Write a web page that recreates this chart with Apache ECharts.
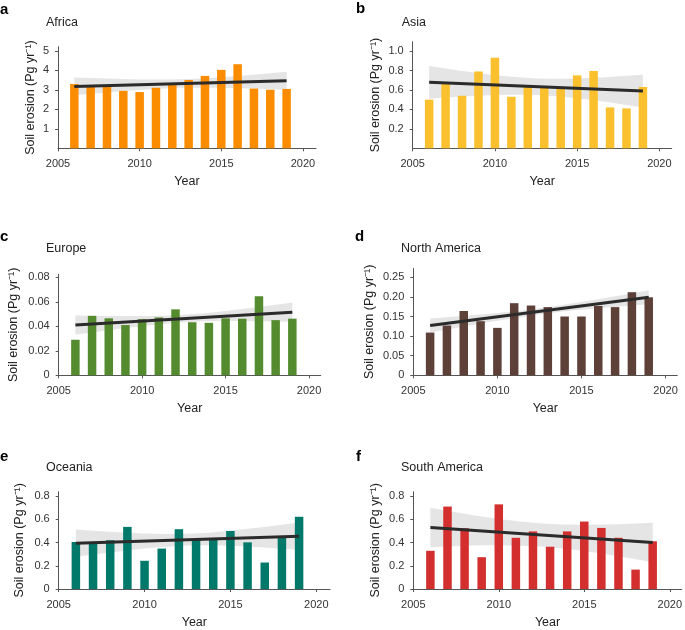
<!DOCTYPE html>
<html><head><meta charset="utf-8">
<script src="https://cdn.jsdelivr.net/npm/echarts@6/dist/echarts.min.js"></script>
<style>html,body{margin:0;padding:0;background:#fff}#c{width:685px;height:630px}</style>
</head><body><div id="c"></div>
<script>
// ---- data ----
const years = [2006,2007,2008,2009,2010,2011,2012,2013,2014,2015,2016,2017,2018,2019];
const regions = ['Africa','Asia','Europe','North America','Oceania','South America'];
const panelLetters = ['a','b','c','d','e','f'];
const africa = [3.30,3.20,3.20,2.95,2.89,3.11,3.30,3.51,3.72,4.03,4.32,3.07,3.01,3.05];
const asia = [0.50,0.66,0.54,0.79,0.93,0.53,0.63,0.62,0.61,0.75,0.795,0.42,0.41,0.63];
const europe = [0.029,0.0485,0.0465,0.041,0.0458,0.0472,0.0538,0.0433,0.0428,0.0465,0.0462,0.0645,0.045,0.0462];
const northAmerica = [0.109,0.127,0.164,0.138,0.121,0.184,0.178,0.174,0.150,0.150,0.177,0.174,0.212,0.199];
const oceania = [0.405,0.40,0.42,0.535,0.243,0.348,0.515,0.432,0.432,0.50,0.402,0.228,0.44,0.622];
const southAmerica = [0.329,0.71,0.523,0.274,0.729,0.441,0.496,0.364,0.496,0.581,0.526,0.441,0.167,0.411];
// trend line end points (2006, 2019)
const trendYears = [2006,2019];
const trendAfrica = [3.18,3.47];
const trendAsia = [0.678,0.588];
const trendEurope = [0.041,0.0515];
const trendNorthAmerica = [0.127,0.199];
const trendOceania = [0.395,0.455];
const trendSouthAmerica = [0.53,0.40];
// confidence band, read at these years
const bandYears = [2006,2007,2008,2009,2010,2011.25,2012.5,2013.75,2015,2016,2017,2018,2019];
const bandLoAfrica = [2.72,2.80,2.87,2.94,3.00,3.06,3.105,3.11,3.11,3.09,3.07,3.04,3.01];
const bandHiAfrica = [3.64,3.61,3.58,3.56,3.54,3.535,3.545,3.59,3.65,3.71,3.78,3.85,3.93];
const bandLoAsia = [0.51,0.522,0.532,0.541,0.548,0.551,0.548,0.534,0.514,0.493,0.470,0.445,0.42];
const bandHiAsia = [0.846,0.820,0.796,0.773,0.752,0.732,0.718,0.714,0.718,0.725,0.734,0.745,0.756];
const bandLoEurope = [0.0332,0.0350,0.0368,0.0385,0.0401,0.0418,0.0433,0.0440,0.0442,0.0442,0.0441,0.0439,0.0437];
const bandHiEurope = [0.0488,0.0486,0.0484,0.0483,0.0483,0.0486,0.0493,0.0507,0.0524,0.0540,0.0557,0.0575,0.0593];
const bandLoNorthAmerica = [0.109,0.117,0.124,0.132,0.139,0.147,0.155,0.162,0.167,0.171,0.174,0.178,0.181];
const bandHiNorthAmerica = [0.145,0.148,0.152,0.155,0.159,0.164,0.171,0.179,0.187,0.194,0.202,0.209,0.217];
const bandLoOceania = [0.277,0.297,0.315,0.332,0.348,0.363,0.375,0.376,0.372,0.365,0.357,0.347,0.337];
const bandHiOceania = [0.513,0.502,0.493,0.485,0.478,0.474,0.475,0.485,0.502,0.518,0.535,0.554,0.573];
const bandLoSouthAmerica = [0.36,0.367,0.372,0.376,0.377,0.373,0.365,0.349,0.327,0.305,0.282,0.257,0.23];
const bandHiSouthAmerica = [0.70,0.674,0.648,0.625,0.603,0.582,0.565,0.556,0.553,0.555,0.558,0.564,0.57];
// tick labels
const xTicks = [2005,2010,2015,2020];
const yTicksAfrica = [1,2,3,4,5];
const yTicksAsia = [0.2,0.4,0.6,0.8,1.0];
const yTicksEurope = [0,0.02,0.04,0.06,0.08];
const yTicksNorthAmerica = [0,0.05,0.10,0.15,0.20,0.25];
const yTicksOceania = [0,0.2,0.4,0.6,0.8];
const yTicksSouthAmerica = [0,0.2,0.4,0.6,0.8];

const values = [africa,asia,europe,northAmerica,oceania,southAmerica];
const trends = [trendAfrica,trendAsia,trendEurope,trendNorthAmerica,trendOceania,trendSouthAmerica];
const bandLo = [bandLoAfrica,bandLoAsia,bandLoEurope,bandLoNorthAmerica,bandLoOceania,bandLoSouthAmerica];
const bandHi = [bandHiAfrica,bandHiAsia,bandHiEurope,bandHiNorthAmerica,bandHiOceania,bandHiSouthAmerica];
const yTicks = [yTicksAfrica,yTicksAsia,yTicksEurope,yTicksNorthAmerica,yTicksOceania,yTicksSouthAmerica];
const yDecimals = [0,1,2,2,1,1];

// ---- layout / style ----
const FONT = '"Liberation Sans", Arial, Helvetica, sans-serif';
const colors = ['#FB8C00','#FBC02D','#558B2F','#5D4037','#00796B','#D32F2F'];
const grids = [
  {left:58, top:46.7, width:258, height:101.6},
  {left:412.7, top:41.7, width:259, height:106.6},
  {left:58.7, top:274.3, width:262, height:101},
  {left:413.3, top:268.3, width:264, height:107},
  {left:58.7, top:491.7, width:271.3, height:102},
  {left:413.3, top:491.7, width:270.7, height:102}
];
const xMax = [2020.8,2020.75,2020.7,2020.7,2020.8,2020.7];
const yMax = [5.22,1.096,0.0824,0.273,0.838,0.838];
const yNameGap = [20.5,30.5,38.5,37.5,32.5,31.5];
const letterPos = [[0,9.5],[356,8.5],[0,237],[355,237],[0,457],[356,457]];
const titlePos = [[46,22.5],[401.7,23],[46,249],[401,249],[46,467.5],[401,467.5]];

const axisColor = '#555';
const xAxes = [], yAxes = [], series = [], graphics = [];
for (let i = 0; i < 6; i++) {
  xAxes.push({
    type:'value', gridIndex:i, min:2005, max:xMax[i],
    name:'Year', nameLocation:'middle', nameGap:27,
    nameTextStyle:{fontFamily:FONT, fontSize:12.5, color:'#222'},
    axisLine:{show:true, lineStyle:{color:axisColor, width:1}},
    axisTick:{show:true, length:3, customValues:xTicks, lineStyle:{color:axisColor}},
    axisLabel:{customValues:xTicks, margin:10, fontFamily:FONT, fontSize:11, color:'#333',
      formatter:function(v){ return String(Math.round(v)); }},
    splitLine:{show:false}
  });
  const dec = yDecimals[i];
  yAxes.push({
    type:'value', gridIndex:i, min:0, max:yMax[i],
    name:'Soil erosion (Pg yr\u207B\u00B9)', nameLocation:'middle', nameGap:yNameGap[i],
    nameTextStyle:{fontFamily:FONT, fontSize:12.5, color:'#222'},
    axisLine:{show:true, lineStyle:{color:axisColor, width:1}},
    axisTick:{show:true, length:3, customValues:yTicks[i], lineStyle:{color:axisColor}},
    axisLabel:{customValues:yTicks[i], margin:9, fontFamily:FONT, fontSize:11, color:'#333',
      formatter:function(v){ return Math.abs(v) < 1e-9 ? '0' : Number(v).toFixed(dec); }},
    splitLine:{show:false}
  });
  series.push({
    type:'bar', xAxisIndex:i, yAxisIndex:i, barWidth:8.5,
    itemStyle:{color:colors[i]},
    data: years.map((y,j)=>[y, values[i][j]])
  });
  const lo = bandLo[i], hi = bandHi[i];
  series.push({
    type:'custom', coordinateSystem:'cartesian2d', xAxisIndex:i, yAxisIndex:i, silent:true,
    data: [[bandYears[0], lo[0]]],
    encode:{x:0, y:1},
    renderItem:function(params, api){
      const pts = [];
      for (let j = 0; j < bandYears.length; j++) pts.push(api.coord([bandYears[j], hi[j]]));
      for (let j = bandYears.length - 1; j >= 0; j--) pts.push(api.coord([bandYears[j], lo[j]]));
      return {type:'polygon', shape:{points:pts}, style:{fill:'rgba(175,175,175,0.33)'}};
    }
  });
  series.push({
    type:'line', xAxisIndex:i, yAxisIndex:i, symbol:'none',
    lineStyle:{color:'#2b2b2b', width:3},
    data: trendYears.map((y,j)=>[y, trends[i][j]])
  });
  graphics.push({type:'text', x:letterPos[i][0], y:letterPos[i][1],
    style:{text:panelLetters[i], font:'bold 15px '+FONT, fill:'#000', verticalAlign:'middle'}});
  graphics.push({type:'text', x:titlePos[i][0], y:titlePos[i][1],
    style:{text:regions[i], font:'12.5px '+FONT, fill:'#222', verticalAlign:'middle'}});
}

const chart = echarts.init(document.getElementById('c'), null, {renderer:'canvas'});
chart.setOption({
  animation:false,
  backgroundColor:'#fff',
  grid: grids,
  xAxis: xAxes,
  yAxis: yAxes,
  series: series,
  graphic: graphics
});
</script></body></html>
